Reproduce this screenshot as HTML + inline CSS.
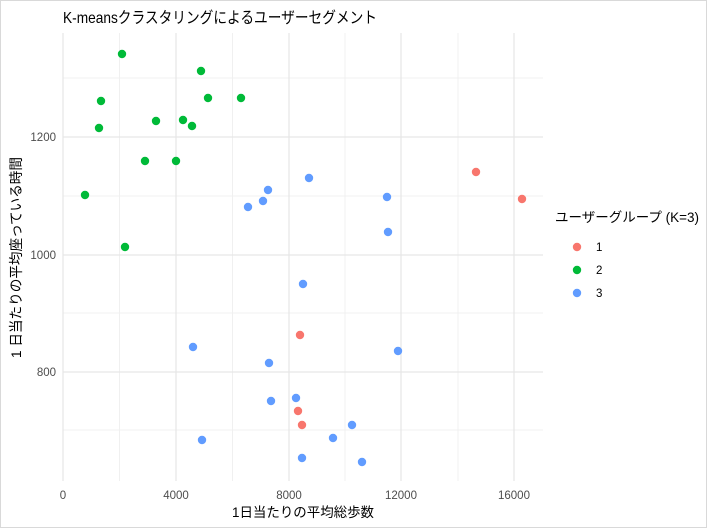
<!DOCTYPE html><html><head><meta charset="utf-8"><style>
body{margin:0;background:#fff}
svg{display:block}
text{font-family:"Liberation Sans","Noto Sans CJK JP",sans-serif}
</style></head><body>
<svg width="707" height="528" viewBox="0 0 707 528">
<rect x="0.5" y="0.5" width="706" height="527" fill="#fff" stroke="#d9d9d9"/>
<g stroke="#f0f0f0" stroke-width="1">
<line x1="119.5" y1="33" x2="119.5" y2="481"/><line x1="232.5" y1="33" x2="232.5" y2="481"/><line x1="345" y1="33" x2="345" y2="481"/><line x1="458" y1="33" x2="458" y2="481"/>
<line x1="63" y1="78" x2="543" y2="78"/><line x1="63" y1="196" x2="543" y2="196"/><line x1="63" y1="313" x2="543" y2="313"/><line x1="63" y1="430" x2="543" y2="430"/>
</g>
<g stroke="#e6e6e6" stroke-width="1.2">
<line x1="63" y1="33" x2="63" y2="481"/><line x1="176" y1="33" x2="176" y2="481"/><line x1="289" y1="33" x2="289" y2="481"/><line x1="401" y1="33" x2="401" y2="481"/><line x1="514" y1="33" x2="514" y2="481"/>
<line x1="63" y1="137" x2="543" y2="137"/><line x1="63" y1="255" x2="543" y2="255"/><line x1="63" y1="372" x2="543" y2="372"/>
</g>
<g fill="#F8766D"><circle cx="476" cy="172" r="4.2"/><circle cx="522" cy="199" r="4.2"/><circle cx="300" cy="335" r="4.2"/><circle cx="298" cy="411" r="4.2"/><circle cx="302" cy="425" r="4.2"/></g>
<g fill="#00BA38"><circle cx="122" cy="54" r="4.2"/><circle cx="201" cy="71" r="4.2"/><circle cx="101" cy="101" r="4.2"/><circle cx="208" cy="98" r="4.2"/><circle cx="241" cy="98" r="4.2"/><circle cx="156" cy="121" r="4.2"/><circle cx="183" cy="120" r="4.2"/><circle cx="99" cy="128" r="4.2"/><circle cx="192" cy="126" r="4.2"/><circle cx="145" cy="161" r="4.2"/><circle cx="176" cy="161" r="4.2"/><circle cx="85" cy="195" r="4.2"/><circle cx="125" cy="247" r="4.2"/></g>
<g fill="#619CFF"><circle cx="309" cy="178" r="4.2"/><circle cx="268" cy="190" r="4.2"/><circle cx="263" cy="201" r="4.2"/><circle cx="248" cy="207" r="4.2"/><circle cx="387" cy="197" r="4.2"/><circle cx="388" cy="232" r="4.2"/><circle cx="303" cy="284" r="4.2"/><circle cx="193" cy="347" r="4.2"/><circle cx="269" cy="363" r="4.2"/><circle cx="398" cy="351" r="4.2"/><circle cx="296" cy="398" r="4.2"/><circle cx="271" cy="401" r="4.2"/><circle cx="352" cy="425" r="4.2"/><circle cx="333" cy="438" r="4.2"/><circle cx="202" cy="440" r="4.2"/><circle cx="302" cy="458" r="4.2"/><circle cx="362" cy="462" r="4.2"/></g>
<g font-size="11.5" fill="#4d4d4d">
<text x="56" y="141" text-anchor="end">1200</text><text x="56" y="259" text-anchor="end">1000</text><text x="56" y="376" text-anchor="end">800</text>
<text x="63" y="499" text-anchor="middle">0</text><text x="176" y="499" text-anchor="middle">4000</text><text x="289" y="499" text-anchor="middle">8000</text><text x="401" y="499" text-anchor="middle">12000</text><text x="514" y="499" text-anchor="middle">16000</text>
</g>
<text x="232" y="517" font-size="13.5" textLength="142" lengthAdjust="spacingAndGlyphs" fill="#000">1日当たりの平均総歩数</text>
<text transform="translate(21,358) rotate(-90)" font-size="14" textLength="201" lengthAdjust="spacingAndGlyphs" fill="#000">1 日当たりの平均座っている時間</text>
<text x="63" y="23" font-size="16" textLength="314" lengthAdjust="spacingAndGlyphs" fill="#000">K-meansクラスタリングによるユーザーセグメント</text>
<text x="555" y="222" font-size="13.5" fill="#000">ユーザーグループ (K=3)</text>
<circle cx="577" cy="247" r="4.2" fill="#F8766D"/><text x="596" y="251" font-size="11.5" fill="#000">1</text>
<circle cx="577" cy="270" r="4.2" fill="#00BA38"/><text x="596" y="274" font-size="11.5" fill="#000">2</text>
<circle cx="577" cy="293" r="4.2" fill="#619CFF"/><text x="596" y="297" font-size="11.5" fill="#000">3</text>
</svg>
</body></html>
